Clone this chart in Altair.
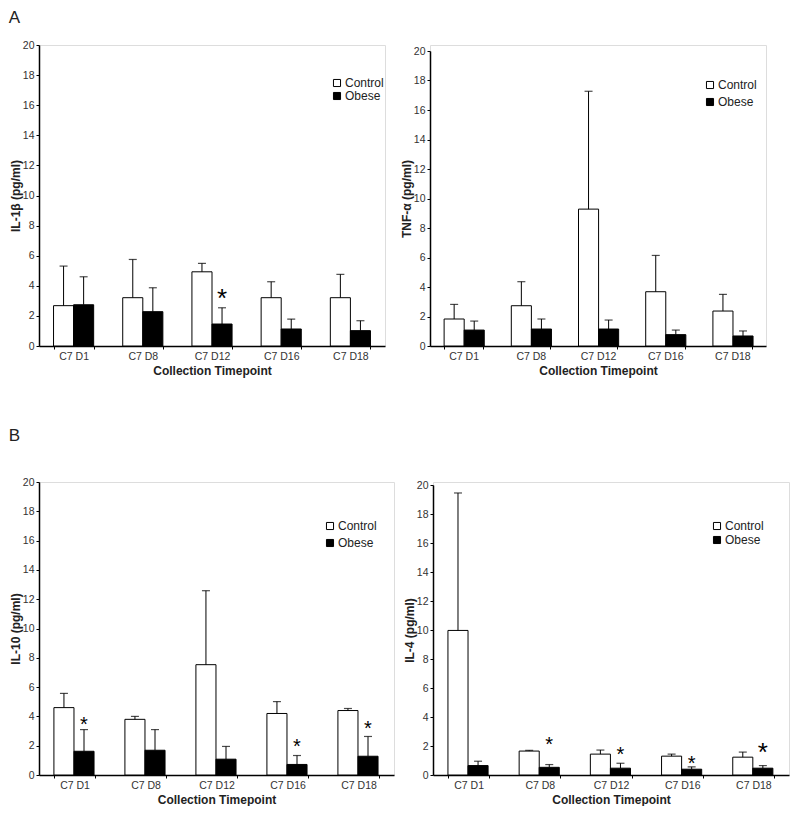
import altair as alt
import pandas as pd

times = ["C7 D1", "C7 D8", "C7 D12", "C7 D16", "C7 D18"]
groups = ["Control", "Obese"]

# IL-1beta
il1b_ctrl = [2.68, 3.21, 4.93, 3.21, 3.21]
il1b_ctrl_top = [5.31, 5.75, 5.49, 4.27, 4.76]
il1b_ob = [2.74, 2.28, 1.46, 1.13, 1.02]
il1b_ob_top = [4.60, 3.87, 2.54, 1.79, 1.68]
il1b_star_t = ["C7 D12"]
il1b_star_y = [3.6]

# TNF-alpha
tnf_ctrl = [1.83, 2.73, 9.28, 3.68, 2.37]
tnf_ctrl_top = [2.82, 4.36, 17.27, 6.14, 3.50]
tnf_ob = [1.08, 1.15, 1.15, 0.77, 0.68]
tnf_ob_top = [1.69, 1.83, 1.76, 1.08, 1.02]
tnf_star_t = []
tnf_star_y = []

# IL-10
il10_ctrl = [4.60, 3.80, 7.53, 4.20, 4.40]
il10_ctrl_top = [5.57, 4.00, 12.58, 5.01, 4.54]
il10_ob = [1.62, 1.69, 1.08, 0.72, 1.28]
il10_ob_top = [3.10, 3.10, 1.95, 1.33, 2.63]
il10_star_t = ["C7 D1", "C7 D16", "C7 D18"]
il10_star_y = [3.8, 2.3, 3.5]

# IL-4
il4_ctrl = [9.97, 1.65, 1.44, 1.30, 1.23]
il4_ctrl_top = [19.45, 1.70, 1.72, 1.44, 1.58]
il4_ob = [0.65, 0.53, 0.47, 0.40, 0.47]
il4_ob_top = [0.95, 0.72, 0.81, 0.56, 0.65]
il4_star_t = ["C7 D8", "C7 D12", "C7 D16", "C7 D18"]
il4_star_y = [2.46, 1.77, 1.12, 2.05]

y_ticks = [0, 2, 4, 6, 8, 10, 12, 14, 16, 18, 20]

FONT = "Liberation Sans"


def panel(ytitle, ctrl, ctrl_top, ob, ob_top, star_t, star_y, star_fs,
          w, h, top_gap, lx, ly, rowpad):
    rows = []
    for i, t in enumerate(times):
        rows.append({"time": t, "group": "Control", "value": ctrl[i], "upper": ctrl_top[i]})
        rows.append({"time": t, "group": "Obese", "value": ob[i], "upper": ob_top[i]})
    df = pd.DataFrame(rows)

    x = alt.X("time:N", sort=times,
              scale=alt.Scale(paddingInner=0.42, paddingOuter=0.21),
              axis=alt.Axis(title="Collection Timepoint", labelAngle=0, tickBand="extent",
                            tickSize=3, tickColor="black", domainColor="black", domainWidth=1.5,
                            labelFontSize=10.5, labelColor="#333333", labelPadding=2,
                            titleFontSize=12, titleFontWeight="bold", titleColor="#222222",
                            titlePadding=4, labelFont=FONT, titleFont=FONT))
    xo = alt.XOffset("group:N", sort=groups, scale=alt.Scale(paddingInner=0, paddingOuter=0))
    yscale = alt.Scale(domain=[0, 20], nice=False, range=[h, top_gap])
    yaxis = alt.Axis(title=ytitle, values=y_ticks, grid=False,
                     labelOverlap=False, tickCount=11,
                     tickSize=3, tickColor="black", domainColor="black", domainWidth=1.5,
                     labelFontSize=10.5, labelColor="#333333", labelPadding=2,
                     titleFontSize=12, titleFontWeight="bold", titleColor="#222222",
                     titlePadding=0, labelFont=FONT, titleFont=FONT)

    base = alt.Chart(df)
    bars = base.mark_bar(stroke="black", strokeWidth=1).encode(
        x=x, xOffset=xo, y=alt.Y("value:Q", scale=yscale, axis=yaxis),
        fill=alt.Fill("group:N", sort=groups,
                      scale=alt.Scale(domain=groups, range=["white", "black"]),
                      legend=alt.Legend(title=None, orient="none", legendX=lx, legendY=ly,
                                        symbolType="square", symbolSize=50,
                                        symbolStrokeColor="black", symbolStrokeWidth=1,
                                        labelFontSize=12, labelColor="#222222", labelFont=FONT,
                                        rowPadding=rowpad, labelOffset=2)))
    err = base.mark_rule(color="black", strokeWidth=1).encode(
        x=x, xOffset=xo, y=alt.Y("value:Q", scale=yscale, axis=yaxis), y2="upper:Q")
    cap = base.mark_tick(color="black", thickness=1.2, size=8).encode(
        x=x, xOffset=xo, y=alt.Y("upper:Q", scale=yscale, axis=yaxis))
    layers = [bars, err, cap]
    if star_t:
        sdf = pd.DataFrame({"time": star_t, "group": ["Obese"] * len(star_t),
                            "sy": star_y, "fs": star_fs})
        for fsz in sorted(set(star_fs)):
            sub = sdf[sdf.fs == fsz]
            stars = alt.Chart(sub).mark_text(text="*", fontSize=fsz, font=FONT, color="black",
                                             baseline="middle", dy=0.28 * fsz).encode(
                x=x, xOffset=xo, y=alt.Y("sy:Q", scale=yscale, axis=yaxis))
            layers.append(stars)
    return alt.layer(*layers).properties(width=w, height=h)


p1 = panel("IL-1β (pg/ml)", il1b_ctrl, il1b_ctrl_top, il1b_ob, il1b_ob_top,
           il1b_star_t, il1b_star_y, [26], 346, 301, 0, 292, 32, 1)
p2 = panel("TNF-α (pg/ml)", tnf_ctrl, tnf_ctrl_top, tnf_ob, tnf_ob_top,
           tnf_star_t, tnf_star_y, [], 336, 301, 6, 274, 34, 5)
p3 = panel("IL-10 (pg/ml)", il10_ctrl, il10_ctrl_top, il10_ob, il10_ob_top,
           il10_star_t, il10_star_y, [20, 20, 20], 355, 293, 0, 285, 38, 5)
p4 = panel("IL-4 (pg/ml)", il4_ctrl, il4_ctrl_top, il4_ob, il4_ob_top,
           il4_star_t, il4_star_y, [20, 20, 20, 26], 356, 293, 3, 278, 38, 2)

rowA = alt.hconcat(p1, p2, spacing=13).resolve_legend(fill="independent").resolve_scale(
    fill="independent", y="independent").properties(
    title=alt.TitleParams("A", anchor="start", fontSize=17, fontWeight="normal",
                          font=FONT, color="#222222", offset=13))
rowB = alt.hconcat(p3, p4, spacing=7).resolve_legend(fill="independent").resolve_scale(
    fill="independent", y="independent").properties(
    title=alt.TitleParams("B", anchor="start", fontSize=17, fontWeight="normal",
                          font=FONT, color="#222222", offset=32))

chart = alt.vconcat(rowA, rowB, spacing=49).resolve_legend(fill="independent").resolve_scale(
    fill="independent", y="independent").properties(padding=0).configure_view(
    strokeWidth=0).configure(font=FONT)

chart.save("out.html", embed_options={"renderer": "svg", "actions": False})
